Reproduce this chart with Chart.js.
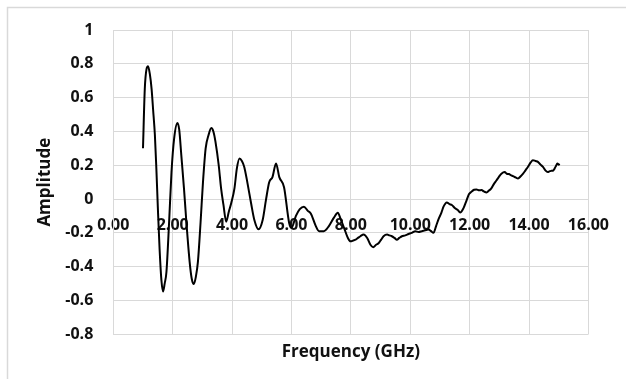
<!DOCTYPE html>
<html>
<head>
<meta charset="utf-8">
<script src="https://cdn.jsdelivr.net/npm/chart.js@4.4.1/dist/chart.umd.min.js"></script>
<style>
html,body{margin:0;padding:0;background:#fff;}
#wrap{position:relative;width:626px;height:379px;}
</style>
</head>
<body>
<div id="wrap"><canvas id="c" width="626" height="379"></canvas></div>
<script>
const frequencyGHz = [
1.0,1.06,1.12,1.17,1.23,1.29,1.34,1.40,1.45,1.50,1.56,1.62,1.675,1.73,1.79,1.88,1.96,2.05,2.16,2.22,2.29,2.38,2.46,2.57,2.64,2.71,2.78,2.85,2.94,3.02,3.11,3.21,3.30,3.37,3.44,3.55,3.63,3.71,3.80,3.89,3.97,4.08,4.16,4.25,4.33,4.41,4.52,4.64,4.75,4.89,5.03,5.14,5.25,5.36,5.48,5.59,5.75,5.92,6.0,6.15,6.28,6.42,6.55,6.65,6.82,6.93,7.09,7.26,7.43,7.56,7.66,7.77,7.9,7.99,8.08,8.16,8.24,8.32,8.43,8.55,8.66,8.75,8.85,8.94,9.02,9.1,9.22,9.3,9.38,9.47,9.55,9.63,9.72,9.83,9.94,10.05,10.17,10.28,10.39,10.5,10.61,10.7,10.78,10.87,10.95,11.05,11.12,11.23,11.32,11.4,11.51,11.6,11.68,11.79,11.9,11.98,12.06,12.15,12.23,12.32,12.4,12.48,12.57,12.65,12.73,12.82,12.9,12.98,13.07,13.18,13.25,13.32,13.4,13.46,13.55,13.63,13.72,13.8,13.88,13.96,14.05,14.13,14.22,14.3,14.38,14.47,14.55,14.63,14.7,14.75,14.82,14.86,14.92,14.95,15.0,15.03
];
const amplitude = [
0.30,0.65,0.77,0.786,0.74,0.65,0.53,0.38,0.18,-0.05,-0.30,-0.48,-0.547,-0.50,-0.43,-0.134,0.16,0.36,0.45,0.41,0.26,0.063,-0.134,-0.37,-0.47,-0.503,-0.46,-0.37,-0.134,0.10,0.30,0.38,0.42,0.40,0.34,0.20,0.063,-0.035,-0.134,-0.075,-0.025,0.063,0.18,0.24,0.225,0.19,0.093,-0.025,-0.124,-0.179,-0.124,-0.006,0.10,0.13,0.21,0.13,0.07,-0.14,-0.17,-0.10,-0.06,-0.045,-0.07,-0.085,-0.16,-0.19,-0.19,-0.16,-0.11,-0.081,-0.12,-0.17,-0.23,-0.25,-0.245,-0.24,-0.23,-0.22,-0.21,-0.23,-0.27,-0.285,-0.27,-0.26,-0.24,-0.22,-0.21,-0.215,-0.22,-0.23,-0.24,-0.23,-0.22,-0.215,-0.207,-0.20,-0.19,-0.195,-0.19,-0.185,-0.18,-0.19,-0.20,-0.16,-0.12,-0.08,-0.045,-0.02,-0.03,-0.035,-0.055,-0.065,-0.08,-0.055,-0.006,0.03,0.043,0.055,0.057,0.052,0.053,0.045,0.039,0.05,0.063,0.09,0.11,0.13,0.15,0.16,0.15,0.148,0.14,0.136,0.128,0.122,0.135,0.15,0.17,0.19,0.215,0.23,0.225,0.22,0.205,0.19,0.17,0.16,0.165,0.167,0.17,0.18,0.20,0.21,0.205,0.20
];
const xTickLabels = ['0.00','2.00','4.00','6.00','8.00','10.00','12.00','14.00','16.00'];
const yTickLabels = ['-0.8','-0.6','-0.4','-0.2','0','0.2','0.4','0.6','0.8','1'];
const xAxisTitle = 'Frequency (GHz)';
const yAxisTitle = 'Amplitude';

const FONT = '"Open Sans", "Liberation Sans", sans-serif';
const GRID = '#d9d9d9';
const TEXT = '#111';

const points = frequencyGHz.map((f, i) => ({x: f, y: amplitude[i]}));

const frame = {
  id: 'frame',
  beforeDraw(chart) {
    const ctx = chart.ctx;
    ctx.save();
    ctx.fillStyle = '#fff';
    ctx.fillRect(0, 0, chart.width, chart.height);
    ctx.strokeStyle = GRID;
    ctx.lineWidth = 1.5;
    ctx.beginPath();
    ctx.moveTo(7.5, chart.height);
    ctx.lineTo(7.5, 7.5);
    ctx.lineTo(chart.width, 7.5);
    ctx.stroke();
    ctx.restore();
  }
};

new Chart(document.getElementById('c'), {
  type: 'line',
  data: {
    datasets: [{
      data: points,
      borderColor: '#000',
      borderWidth: 2,
      pointRadius: 0,
      fill: false,
      cubicInterpolationMode: 'monotone'
    }]
  },
  options: {
    responsive: false,
    animation: false,
    layout: {padding: {left: 35, top: 30, right: 35.3, bottom: 0}},
    plugins: {
      legend: {display: false},
      tooltip: {enabled: false},
      title: {
        display: true,
        text: xAxisTitle,
        position: 'bottom',
        fullSize: false,
        color: TEXT,
        font: {family: FONT, size: 17, weight: '700', lineHeight: 1.2},
        padding: {top: 7.5, bottom: 16.8}
      }
    },
    scales: {
      x: {
        type: 'linear',
        min: 0, max: 16,
        position: {y: 0},
        grid: {color: GRID, lineWidth: 1, drawTicks: false},
        border: {color: GRID, width: 1},
        ticks: {
          stepSize: 2,
          padding: 17,
          color: TEXT,
          font: {family: FONT, size: 16, weight: '700'},
          maxRotation: 0,
          callback: (v, i) => xTickLabels[i]
        }
      },
      y: {
        type: 'linear',
        min: -0.8, max: 1,
        position: 'left',
        afterFit: s => { s.width = 78.3; },
        grid: {color: GRID, lineWidth: 1, drawTicks: false},
        border: {color: GRID, width: 1},
        ticks: {
          stepSize: 0.2,
          padding: 20,
          color: TEXT,
          font: {family: FONT, size: 16, weight: '700'},
          callback: (v, i) => yTickLabels[i]
        },
        title: {
          display: true,
          text: yAxisTitle,
          color: TEXT,
          padding: 0,
          font: {family: FONT, size: 17, weight: '700', lineHeight: 1.2}
        }
      }
    }
  },
  plugins: [frame]
});
</script>
</body>
</html>
